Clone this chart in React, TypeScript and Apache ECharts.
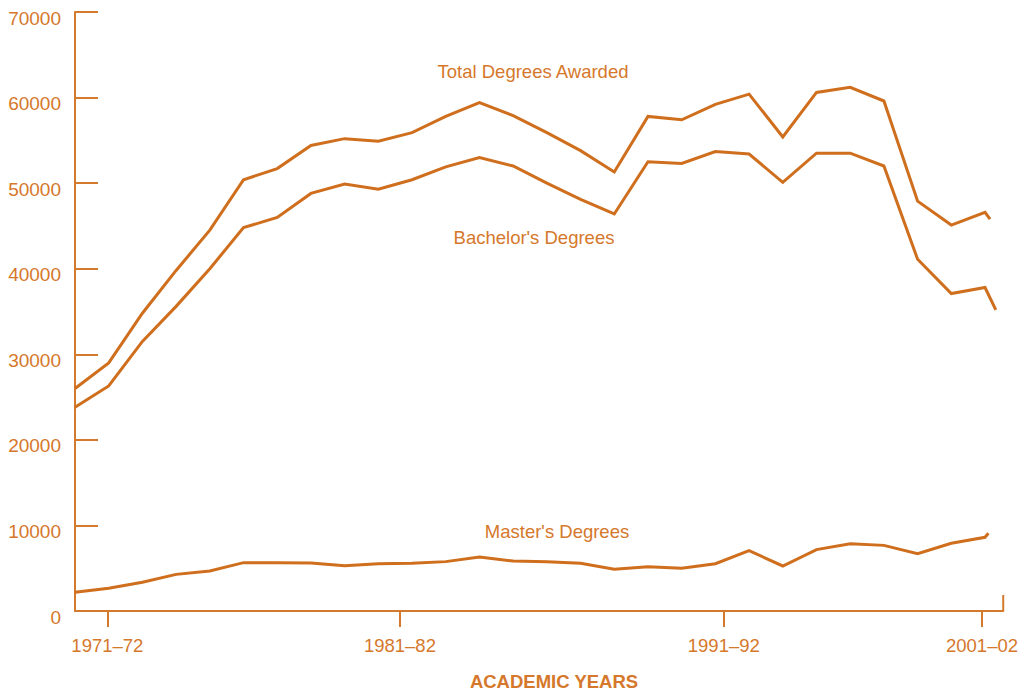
import React, { useEffect, useRef } from "react";
import * as echarts from "echarts";

// x positions are point indices along the axis (last point of each series is a clipped stub)
const xIndex = [0, 1, 2, 3, 4, 5, 6, 7, 8, 9, 10, 11, 12, 13, 14, 15, 16, 17, 18, 19, 20, 21, 22, 23, 24, 25, 26, 27];

const totalDegrees = [26000, 29000, 34800, 39800, 44500, 50400, 51700, 54400, 55200, 54900, 55900, 57800, 59400, 57900, 55900, 53800, 51300, 57800, 57400, 59200, 60400, 55400, 60600, 61200, 59600, 47900, 45100, 46600];
const totalStub: [number, number] = [27.15, 45800];

const bachelorDegrees = [23800, 26300, 31500, 35600, 40000, 44800, 46000, 48800, 49900, 49300, 50400, 51900, 53000, 52000, 50000, 48100, 46400, 52500, 52300, 53700, 53400, 50100, 53500, 53500, 52000, 41100, 37100, 37800];
const bachelorStub: [number, number] = [27.32, 35200];

const masterDegrees = [2200, 2650, 3350, 4280, 4670, 5650, 5650, 5610, 5300, 5530, 5570, 5770, 6310, 5840, 5760, 5570, 4870, 5180, 4990, 5530, 7050, 5260, 7170, 7870, 7670, 6700, 7910, 8610];
const masterStub: [number, number] = [27.1, 9080];

const xTickPositions = [0.96, 9.64, 19.25, 26.91];
const xTickLabels = ["1971\u201372", "1981\u201382", "1991\u201392", "2001\u201302"];

const X_MAX = 27.54;
const endTickTop = 1870;

const LINE = "#CF6E1D";
const AXIS = "#D47A2E";
const TEXT = "#D5782B";
const FONT = "'Liberation Sans', Arial, Helvetica, sans-serif";

function pts(vals: number[], stub: [number, number]) {
  const d = vals.map((v, i) => [xIndex[i], v]);
  d.push(stub);
  return d;
}

export default function App() {
  const ref = useRef<HTMLDivElement>(null);
  useEffect(() => {
    if (!ref.current) return;
    const chart = echarts.init(ref.current, null, { renderer: "svg" });
    const lineSeries = (name: string, data: number[][]) => ({
      name,
      type: "line",
      data,
      showSymbol: false,
      symbol: "none",
      lineStyle: { color: LINE, width: 3, join: "miter" },
      itemStyle: { color: LINE },
      clip: false,
      silent: true,
    });
    chart.setOption({
      animation: false,
      grid: { left: 75, right: 16, top: 12, bottom: 83, containLabel: false },
      xAxis: {
        type: "value",
        min: 0,
        max: X_MAX,
        splitLine: { show: false },
        axisLine: { show: true, lineStyle: { color: AXIS, width: 2 } },
        axisTick: {
          show: true,
          inside: false,
          length: 16,
          lineStyle: { color: AXIS, width: 2 },
          customValues: xTickPositions,
        },
        axisLabel: {
          show: true,
          margin: 25,
          color: TEXT,
          fontSize: 18.5,
          fontFamily: FONT,
          customValues: xTickPositions,
          formatter: (v: number) => {
            const i = xTickPositions.findIndex((p) => Math.abs(p - v) < 1e-6);
            return i >= 0 ? xTickLabels[i] : "";
          },
        },
      },
      yAxis: {
        type: "value",
        min: 0,
        max: 70000,
        interval: 10000,
        splitLine: { show: false },
        axisLine: { show: true, lineStyle: { color: AXIS, width: 2 } },
        axisTick: { show: true, inside: true, length: 23, lineStyle: { color: AXIS, width: 2 } },
        axisLabel: {
          show: true,
          margin: 14,
          color: TEXT,
          fontSize: 19,
          fontFamily: FONT,
          verticalAlign: "top",
          lineHeight: 12,
          formatter: (v: number) => String(v),
        },
      },
      series: [
        lineSeries("Total Degrees Awarded", pts(totalDegrees, totalStub)),
        lineSeries("Bachelor's Degrees", pts(bachelorDegrees, bachelorStub)),
        lineSeries("Master's Degrees", pts(masterDegrees, masterStub)),
        {
          type: "line",
          data: [[X_MAX, 0], [X_MAX, endTickTop]],
          symbol: "none",
          lineStyle: { color: AXIS, width: 2 },
          clip: false,
          silent: true,
        },
      ],
      graphic: [
        { type: "text", x: 533, y: 71, style: { text: "Total Degrees Awarded", fill: TEXT, font: `18.5px ${FONT}`, align: "center", verticalAlign: "middle" } },
        { type: "text", x: 534, y: 237, style: { text: "Bachelor's Degrees", fill: TEXT, font: `18.5px ${FONT}`, align: "center", verticalAlign: "middle" } },
        { type: "text", x: 557, y: 531, style: { text: "Master's Degrees", fill: TEXT, font: `18.5px ${FONT}`, align: "center", verticalAlign: "middle" } },
        { type: "text", x: 554, y: 681, style: { text: "ACADEMIC YEARS", fill: TEXT, font: `bold 18.5px ${FONT}`, align: "center", verticalAlign: "middle" } },
      ],
    });
    return () => chart.dispose();
  }, []);
  return (
    <div
      ref={ref}
      style={{ position: "fixed", left: 0, top: 0, width: 1021, height: 694, background: "#ffffff" }}
    />
  );
}
